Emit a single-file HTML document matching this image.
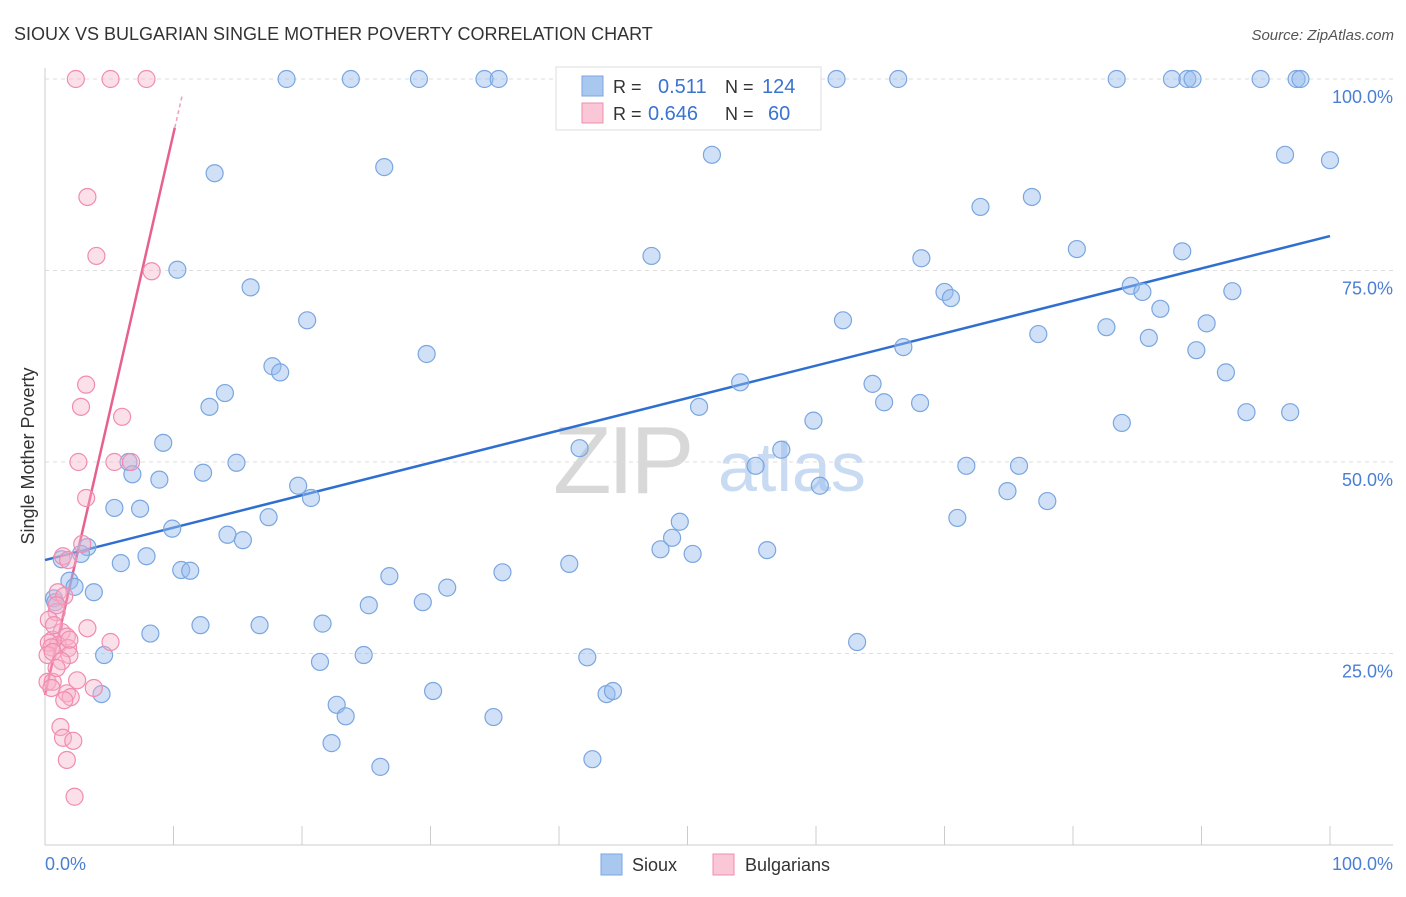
<!DOCTYPE html>
<html><head><meta charset="utf-8"><style>
body{margin:0;background:#fff;font-family:"Liberation Sans",sans-serif;}
svg text{font-family:"Liberation Sans",sans-serif;}
</style></head><body>
<svg id="chart" width="1406" height="892" viewBox="0 0 1406 892">
<text x="14" y="40" font-size="18" fill="#333">SIOUX VS BULGARIAN SINGLE MOTHER POVERTY CORRELATION CHART</text>
<text x="1394" y="40" font-size="15" fill="#555" font-style="italic" text-anchor="end">Source: ZipAtlas.com</text>
<g>
<text x="553" y="493" font-size="96" fill="#d8d8d8" font-family="Liberation Serif,serif" letter-spacing="-4">ZIP</text>
<text x="718" y="491" font-size="70" fill="#c9dbf2">atlas</text>
</g>
<g id="grid"></g>
<g id="axes"></g>
<g id="trend"></g>
<g id="pts"></g>
<text x="34" y="456" font-size="18" fill="#333" text-anchor="middle" transform="rotate(-90 34 456)">Single Mother Poverty</text>
<text x="45" y="870" font-size="18" fill="#4a7fd4">0.0%</text>
<text x="1393" y="870" font-size="18" fill="#4a7fd4" text-anchor="end">100.0%</text>
<g>
<rect x="556" y="67" width="265" height="63" fill="#fff" stroke="#ddd"/>
<rect x="582" y="76" width="21" height="20" fill="#a9c8f0" stroke="#7aa6e0"/>
<rect x="582" y="103" width="21" height="20" fill="#f9c7d6" stroke="#f08cb0"/>
<text x="613" y="93" font-size="18" fill="#333">R =</text>
<text x="658" y="93" font-size="20" fill="#3a73d0">0.511</text>
<text x="725" y="93" font-size="18" fill="#333">N =</text>
<text x="762" y="93" font-size="20" fill="#3a73d0">124</text>
<text x="613" y="120" font-size="18" fill="#333">R =</text>
<text x="648" y="120" font-size="20" fill="#3a73d0">0.646</text>
<text x="725" y="120" font-size="18" fill="#333">N =</text>
<text x="768" y="120" font-size="20" fill="#3a73d0">60</text>
</g>
<g>
<rect x="601" y="854" width="21" height="21" fill="#a9c8f0" stroke="#7aa6e0"/>
<text x="632" y="871" font-size="18" fill="#333">Sioux</text>
<rect x="713" y="854" width="21" height="21" fill="#f9c7d6" stroke="#f08cb0"/>
<text x="745" y="871" font-size="18" fill="#333">Bulgarians</text>
</g>
</svg>
<script>
const yTicks=[25,50,75,100];
const yTickLabels=["25.0%","50.0%","75.0%","100.0%"];
const xTicks=[0,10,20,30,40,50,60,70,80,90,100];
const siouxX=[18.8,23.8,29.1,34.2,35.3,43.4,54.2,61.6,66.4,83.4,87.7,88.9,89.3,94.6,97.4,97.7,51.9,96.5,100,13.2,26.4,72.8,76.8,47.2,68.2,80.3,88.5,10.3,16.0,70.0,70.5,84.5,85.4,92.4,86.8,20.4,62.1,82.6,90.4,77.3,85.9,29.7,66.8,89.6,17.7,18.3,91.9,54.1,64.4,14.0,65.3,68.1,12.8,50.9,59.8,93.5,96.9,83.8,9.2,41.6,57.3,6.5,14.9,55.3,71.7,75.8,6.8,8.9,12.3,19.7,20.7,74.9,78.0,60.3,5.4,7.4,17.4,71.0,49.4,9.9,14.2,15.4,48.8,47.9,56.2,50.4,3.3,2.8,1.3,7.9,5.9,10.6,11.3,40.8,26.8,35.6,1.9,2.3,3.8,31.3,0.7,0.8,29.4,25.2,21.6,8.2,12.1,16.7,63.2,4.6,21.4,24.8,42.2,30.2,4.4,43.7,44.2,22.7,23.4,34.9,22.3,26.1,42.6];
const siouxY=[100,100,100,100,100,100,100,100,100,100,100,100,100,100,100,100,90.1,90.1,89.4,87.7,88.5,83.3,84.6,76.9,76.6,77.8,77.5,75.1,72.8,72.2,71.4,73.0,72.2,72.3,70.0,68.5,68.5,67.6,68.1,66.7,66.2,64.1,65.0,64.6,62.5,61.7,61.7,60.4,60.2,59.0,57.8,57.7,57.2,57.2,55.4,56.5,56.5,55.1,52.5,51.8,51.6,50.0,49.9,49.5,49.5,49.5,48.4,47.7,48.6,46.9,45.3,46.2,44.9,46.9,44.0,43.9,42.8,42.7,42.2,41.3,40.5,39.8,40.1,38.6,38.5,38.0,38.9,38.0,37.3,37.7,36.8,35.9,35.8,36.7,35.1,35.6,34.5,33.7,33.0,33.6,32.2,31.7,31.7,31.3,28.9,27.6,28.7,28.7,26.5,24.8,23.9,24.8,24.5,20.1,19.7,19.7,20.1,18.3,16.8,16.7,13.3,10.2,11.2];
const bulgX=[2.4,5.1,7.9,3.3,4.0,8.3,3.2,2.8,6.0,2.6,5.4,6.7,3.2,2.9,1.4,1.8,1.0,1.5,0.9,3.3,1.3,5.1,1.7,0.6,1.0,0.3,0.5,1.8,1.9,0.2,0.6,2.5,0.2,0.6,3.8,1.7,2.0,1.5,0.5,1.2,1.4,2.2,1.7,2.3,0.9,0.3,0.7,1.9,1.3,0.9];
const bulgY=[100,100,100,84.6,76.9,74.9,60.1,57.2,55.9,50.0,50.0,50.0,45.3,39.3,37.7,37.2,33.0,32.5,30.4,28.3,27.8,26.5,27.2,26.8,26.1,26.4,25.8,25.7,24.8,24.8,25.2,21.5,21.3,21.3,20.5,19.8,19.3,18.9,20.5,15.4,14.0,13.6,11.1,6.3,31.3,29.4,28.7,26.8,24.0,23.1];
const siouxTrend=[37.2,0.423];
const bulgTrend=[19.6,7.33];
const NS="http://www.w3.org/2000/svg";
const X0=45,X1=1330,Y0=845,Y100=79;
const sx=v=>X0+(X1-X0)*v/100;
const sy=v=>Y0-(Y0-Y100)*v/100;
function mk(tag,attrs,parent){const e=document.createElementNS(NS,tag);for(const k in attrs)e.setAttribute(k,attrs[k]);document.getElementById(parent).appendChild(e);return e;}
yTicks.forEach((t,i)=>{
 const l=mk('line',{x1:45,x2:1393,y1:sy(t),y2:sy(t),stroke:'#ddd','stroke-dasharray':'4,4'},'grid');
 
 
 const tx=mk('text',{x:1393,y:sy(t)+24,'font-size':18,fill:'#4a7fd4','text-anchor':'end'},'grid');
 tx.textContent=yTickLabels[i];
 
 
});
const ax=mk('line',{x1:45,x2:1393,y1:Y0,y2:Y0,stroke:'#ccc'},'axes');


const ay=mk('line',{x1:45,x2:45,y1:68,y2:Y0,stroke:'#ccc'},'axes');


xTicks.forEach(t=>{
 const l=mk('line',{x1:sx(t),x2:sx(t),y1:826,y2:Y0,stroke:'#ccc'},'axes');
 
 
});
function dot(x,y,fill,stroke,name){
 const c=mk('circle',{cx:sx(x),cy:sy(y),r:8.5,fill:fill,stroke:stroke,'stroke-width':1.2},'pts');
 
 
}
siouxX.forEach((x,i)=>dot(x,siouxY[i],'rgba(150,188,238,0.45)','#7aa6e0','sioux-point'));
bulgX.forEach((x,i)=>dot(x,bulgY[i],'rgba(247,178,200,0.4)','#f08cb0','bulgarian-point'));
const tb=mk('line',{x1:sx(0),y1:sy(siouxTrend[0]),x2:sx(100),y2:sy(siouxTrend[0]+siouxTrend[1]*100),stroke:'#2f6fd0','stroke-width':2.5},'trend');


const tp=mk('line',{x1:sx(0),y1:sy(bulgTrend[0]),x2:sx(10.1),y2:sy(bulgTrend[0]+bulgTrend[1]*10.1),stroke:'#e8608e','stroke-width':2.5},'trend');


const td=mk('line',{x1:sx(10.1),y1:sy(bulgTrend[0]+bulgTrend[1]*10.1),x2:sx(10.7),y2:sy(bulgTrend[0]+bulgTrend[1]*10.7),stroke:'#f0a0bc','stroke-width':1.5,'stroke-dasharray':'4,3'},'trend');


</script>
</body></html>
